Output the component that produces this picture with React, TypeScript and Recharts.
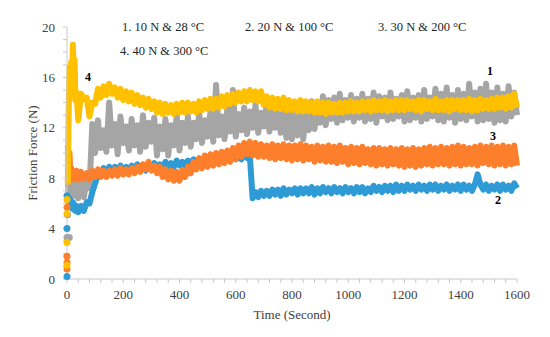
import React from "react";
import { ComposedChart, Line, XAxis, YAxis } from "recharts";

const GRAY = "#a5a5a5";
const BLUE = "#2e9bd6";
const ORANGE = "#fd7f2c";
const YELLOW = "#ffc000";

// sampling times (s): dense start, then every 10 s
const earlyTime = [3, 6, 9, 12, 15, 18, 21, 24, 27, 30, 34];
const regularTime = Array.from({ length: 157 }, (_, i) => 40 + i * 10);
const time = [...earlyTime, ...regularTime];

// 1. 10 N & 28 °C
const gray = [
  7.8, 6.8, 8.0, 6.7, 8.1, 6.6, 8.0, 6.8, 8.2, 6.6, 7.9,
  6.4, 7.8, 6.5, 8.0, 7.2, 12.3, 10.0, 12.6, 10.4, 11.8,
  10.1, 14.0, 10.6, 12.3, 9.9, 12.9, 10.8, 12.1, 10.2, 12.7,
  10.6, 12.2, 10.1, 13.0, 10.5, 12.4, 10.9, 12.8, 9.8, 12.1,
  10.3, 12.7, 9.8, 12.2, 10.6, 13.0, 10.2, 12.4, 10.8, 12.9,
  10.5, 12.4, 11.1, 13.1, 10.8, 12.6, 11.3, 13.2, 10.9, 15.4,
  11.4, 12.9, 11.1, 13.5, 11.7, 15.0, 11.3, 13.1, 11.8, 13.6,
  11.5, 13.3, 12.0, 13.8, 11.6, 13.2, 12.1, 13.9, 11.7, 13.4,
  12.0, 13.9, 11.6, 13.3, 11.2, 13.6, 11.1, 13.2, 11.4, 13.7,
  11.1, 13.5, 11.8, 14.1, 11.9, 13.9, 12.4, 14.5, 12.2, 14.2,
  12.7, 14.4, 12.4, 14.7, 12.6, 14.2, 12.8, 14.6, 12.5, 14.3,
  12.8, 14.7, 12.5, 14.3, 12.7, 14.8, 12.4, 14.5, 12.9, 14.4,
  12.6, 14.8, 12.7, 14.3, 12.9, 14.6, 12.5, 14.9, 12.6, 14.4,
  12.8, 14.6, 12.5, 15.0, 12.7, 14.4, 12.9, 15.1, 12.6, 14.7,
  12.5, 15.2, 12.8, 14.6, 12.4, 15.0, 12.7, 14.7, 12.6, 15.5,
  12.9, 14.8, 12.5, 15.1, 12.6, 15.5, 12.7, 14.8, 12.4, 15.2,
  12.6, 14.7, 12.5, 15.3, 12.9, 14.8, 13.0,
];

// 2. 20 N & 100 °C
const blue = [
  6.6, 6.0, 6.4, 5.8, 6.2, 5.6, 6.1, 5.5, 5.9, 5.4, 5.8,
  5.3, 5.8, 5.4, 6.1, 6.0, 6.9, 7.6, 8.3, 8.2, 8.8,
  8.4, 8.9, 8.4, 8.9, 8.5, 9.0, 8.5, 8.9, 8.6, 9.0,
  8.6, 9.1, 8.7, 9.0, 8.6, 9.1, 8.7, 9.2, 8.8, 9.1,
  8.8, 9.3, 8.9, 9.2, 8.9, 9.4, 9.0, 9.3, 9.0, 9.4,
  9.1, 9.5, 9.1, 9.4, 9.2, 9.6, 9.2, 9.5, 9.3, 9.6,
  9.3, 9.7, 9.4, 9.6, 9.4, 9.8, 9.5, 9.7, 9.5, 9.9,
  9.6, 9.8, 6.4, 6.9, 6.5, 7.0, 6.6, 7.0, 6.6, 7.1,
  6.7, 7.1, 6.6, 7.2, 6.7, 7.1, 6.8, 7.2, 6.7, 7.2,
  6.8, 7.2, 6.8, 7.3, 6.7, 7.2, 6.8, 7.3, 6.9, 7.2,
  6.8, 7.3, 6.9, 7.2, 6.8, 7.3, 6.9, 7.2, 6.8, 7.3,
  6.9, 7.3, 6.8, 7.2, 6.9, 7.4, 7.0, 7.3, 6.9, 7.4,
  7.0, 7.4, 6.9, 7.5, 7.0, 7.4, 7.0, 7.5, 7.1, 7.4,
  7.0, 7.5, 7.1, 7.4, 7.0, 7.5, 7.1, 7.5, 7.0, 7.4,
  7.1, 7.5, 7.0, 7.4, 7.1, 7.5, 7.0, 7.5, 7.1, 7.4,
  7.0, 7.5, 8.3, 7.5, 7.1, 7.5, 7.0, 7.4, 7.1, 7.5,
  7.0, 7.5, 7.1, 7.4, 7.0, 7.6, 7.2,
];

// 3. 30 N & 200 °C
const orange = [
  10.6, 9.0, 10.0, 8.2, 8.8, 8.0, 8.6, 7.9, 8.5, 8.0, 8.6,
  7.9, 8.5, 8.0, 8.4, 7.9, 8.6, 8.1, 8.7, 8.1, 8.6,
  8.1, 8.6, 8.2, 8.7, 8.2, 8.8, 8.3, 8.7, 8.3, 8.8,
  8.4, 8.9, 8.5, 9.1, 8.7, 9.3, 8.6, 9.0, 8.4, 8.9,
  8.1, 8.7, 7.9, 8.6, 7.8, 8.5, 7.8, 8.6, 8.1, 8.9,
  8.4, 9.3, 8.7, 9.6, 8.8, 9.8, 8.9, 9.9, 9.0, 10.0,
  9.1, 10.1, 9.2, 10.2, 9.3, 10.4, 9.5, 10.6, 9.7, 10.8,
  9.9, 10.9, 9.8, 10.8, 9.7, 10.7, 9.7, 10.6, 9.6, 10.7,
  9.5, 10.6, 9.6, 10.7, 9.5, 10.6, 9.4, 10.6, 9.5, 10.7,
  9.4, 10.6, 9.5, 10.5, 9.3, 10.6, 9.4, 10.5, 9.3, 10.6,
  9.3, 10.5, 9.2, 10.6, 9.3, 10.4, 9.1, 10.5, 9.2, 10.4,
  9.1, 10.5, 9.2, 10.3, 9.1, 10.4, 9.0, 10.4, 9.1, 10.3,
  9.0, 10.4, 9.1, 10.3, 9.0, 10.4, 8.9, 10.3, 9.0, 10.4,
  8.9, 10.3, 9.0, 10.4, 9.1, 10.5, 9.0, 10.4, 9.1, 10.5,
  9.1, 10.4, 9.0, 10.5, 9.1, 10.6, 9.0, 10.5, 9.1, 10.4,
  9.1, 10.5, 9.0, 10.6, 9.2, 10.5, 9.1, 10.6, 9.0, 10.5,
  9.1, 10.6, 9.0, 10.5, 9.1, 10.6, 9.0,
];

// 4. 40 N & 300 °C
const yellow = [
  7.5, 13.5, 16.8, 14.4, 17.2, 15.8, 18.6, 16.0, 17.4, 14.2, 14.8,
  12.6, 14.7, 14.3, 14.4, 12.9, 14.0, 13.9, 15.1, 14.4, 15.3,
  14.6, 15.5, 14.7, 15.2, 14.4, 15.1, 14.2, 14.9, 14.1, 14.8,
  13.9, 14.6, 13.8, 14.4, 13.6, 14.3, 13.5, 14.1, 13.2, 14.0,
  13.1, 13.9, 13.2, 13.8, 13.1, 13.9, 13.2, 14.0, 13.2, 14.0,
  13.3, 13.9, 13.2, 14.1, 13.4, 14.2, 13.5, 14.3, 13.5, 14.3,
  13.6, 14.5, 13.7, 14.6, 13.9, 14.7, 14.0, 14.8, 14.1, 14.9,
  14.1, 15.0, 14.2, 14.9, 14.1, 14.9, 13.8, 14.5, 13.6, 14.4,
  13.5, 14.3, 13.5, 14.4, 13.4, 14.2, 13.4, 14.1, 13.3, 14.2,
  13.3, 14.1, 13.3, 14.0, 13.2, 14.1, 13.2, 14.0, 13.1, 14.0,
  13.2, 13.9, 13.2, 14.0, 13.2, 14.0, 13.3, 14.1, 13.3, 14.0,
  13.3, 14.1, 13.4, 14.1, 13.3, 14.2, 13.4, 14.1, 13.4, 14.2,
  13.3, 14.1, 13.4, 14.2, 13.4, 14.2, 13.4, 14.2, 13.5, 14.1,
  13.4, 14.2, 13.3, 14.2, 13.5, 14.1, 13.4, 14.3, 13.4, 14.1,
  13.4, 14.2, 13.3, 14.2, 13.5, 14.2, 13.4, 14.2, 13.4, 14.3,
  13.3, 14.2, 13.4, 14.3, 13.5, 14.2, 13.5, 14.3, 13.5, 14.4,
  13.6, 14.4, 13.5, 14.5, 13.6, 14.7, 13.6,
];

// first readings while the load ramps up (all at t ~ 0)
const grayStart = [
  { t: 0, v: 3.3 },
  { t: 8, v: 3.3 },
  { t: 2, v: 5.1 },
];
const blueStart = [
  { t: 0, v: 0.2 },
  { t: 0, v: 4.0 },
  { t: 0, v: 6.6 },
];
const orangeStart = [
  { t: 0, v: 0.8 },
  { t: 0, v: 1.3 },
  { t: 0, v: 1.8 },
  { t: 0, v: 5.7 },
];
const yellowStart = [
  { t: 0, v: 1.1 },
  { t: 0, v: 2.9 },
  { t: 0, v: 5.2 },
  { t: 0, v: 6.3 },
];

const xLabelTicks = [0, 200, 400, 600, 800, 1000, 1200, 1400, 1600];
const yLabelTicks = [0, 4, 8, 12, 16, 20];
const xMinorTicks = Array.from({ length: 41 }, (_, i) => i * 40);
const yMinorTicks = Array.from({ length: 21 }, (_, i) => i);

const legendItems = [
  { text: "1. 10 N & 28 °C", x: 122, y: 31 },
  { text: "2. 20 N & 100 °C", x: 245, y: 31 },
  { text: "3. 30 N & 200 °C", x: 378, y: 31 },
  { text: "4. 40 N & 300 °C", x: 120, y: 55 },
];
const curveTags = [
  { text: "1", x: 490, y: 75 },
  { text: "2", x: 498, y: 204 },
  { text: "3", x: 493, y: 140 },
  { text: "4", x: 88, y: 81 },
];

const data = time.map((t, i) => ({
  t,
  s1: gray[i],
  s2: blue[i],
  s3: orange[i],
  s4: yellow[i],
}));

const FONT = "'Liberation Serif', 'Times New Roman', serif";
const AXIS = "#c9c9c9";
const TEXT = "#404040";
const BAND = 6;

const startDot = (fill: string) => ({ r: 3.5, fill, stroke: "none" });

// only every 200 s / 4 N gets a number, the rest are minor tick marks
const XTick = (props: any) => {
  const { x, y, payload } = props;
  if (!xLabelTicks.includes(payload.value)) return <g />;
  return (
    <text x={x} y={y} dy="0.71em" textAnchor="middle" fontSize={13} fontFamily={FONT} fill={TEXT}>
      {payload.value}
    </text>
  );
};

const YTick = (props: any) => {
  const { x, y, payload } = props;
  if (!yLabelTicks.includes(payload.value)) return <g />;
  return (
    <text x={x} y={y} dy="0.355em" textAnchor="end" fontSize={13} fontFamily={FONT} fill={TEXT}>
      {payload.value}
    </text>
  );
};

export default function App() {
  return (
    <div
      style={{
        position: "absolute",
        left: 0,
        top: 0,
        width: 550,
        height: 337,
        background: "#fff",
        fontFamily: FONT,
      }}
    >
      <ComposedChart
        width={550}
        height={337}
        data={data}
        margin={{ top: 27, right: 33, bottom: 0, left: 0 }}
      >
        <XAxis
          dataKey="t"
          type="number"
          domain={[0, 1600]}
          ticks={xMinorTicks}
          interval={0}
          height={58}
          tickSize={4}
          tickMargin={7}
          axisLine={{ stroke: AXIS }}
          tickLine={{ stroke: AXIS }}
          tick={<XTick />}
        />
        <YAxis
          type="number"
          domain={[0, 20]}
          ticks={yMinorTicks}
          interval={0}
          width={67}
          tickSize={4}
          tickMargin={8}
          axisLine={{ stroke: AXIS }}
          tickLine={{ stroke: AXIS }}
          tick={<YTick />}
        />
        <Line dataKey="s1" stroke={GRAY} strokeWidth={BAND} strokeLinejoin="round" dot={false} activeDot={false} isAnimationActive={false} />
        <Line data={grayStart} dataKey="v" stroke="none" dot={startDot(GRAY)} activeDot={false} isAnimationActive={false} />
        <Line dataKey="s2" stroke={BLUE} strokeWidth={BAND} strokeLinejoin="round" dot={false} activeDot={false} isAnimationActive={false} />
        <Line data={blueStart} dataKey="v" stroke="none" dot={startDot(BLUE)} activeDot={false} isAnimationActive={false} />
        <Line dataKey="s3" stroke={ORANGE} strokeWidth={BAND} strokeLinejoin="round" dot={false} activeDot={false} isAnimationActive={false} />
        <Line data={orangeStart} dataKey="v" stroke="none" dot={startDot(ORANGE)} activeDot={false} isAnimationActive={false} />
        <Line dataKey="s4" stroke={YELLOW} strokeWidth={BAND} strokeLinejoin="round" dot={false} activeDot={false} isAnimationActive={false} />
        <Line data={yellowStart} dataKey="v" stroke="none" dot={startDot(YELLOW)} activeDot={false} isAnimationActive={false} />
      </ComposedChart>
      <svg
        width={550}
        height={337}
        style={{ position: "absolute", left: 0, top: 0, pointerEvents: "none" }}
      >
        {legendItems.map((d) => (
          <text key={d.text} x={d.x} y={d.y} fontSize={12.5} fontFamily={FONT} fill="#262626">
            {d.text}
          </text>
        ))}
        {curveTags.map((d) => (
          <text key={d.text} x={d.x} y={d.y} fontSize={12} fontWeight="bold" fontFamily={FONT} fill="#000" textAnchor="middle">
            {d.text}
          </text>
        ))}
        <text
          x={0}
          y={0}
          transform="translate(37,153) rotate(-90)"
          textAnchor="middle"
          fontSize={13}
          fontFamily={FONT}
          fill={TEXT}
        >
          Friction Force (N)
        </text>
        <text x={292} y={319} textAnchor="middle" fontSize={13} fontFamily={FONT} fill={TEXT}>
          Time (Second)
        </text>
      </svg>
    </div>
  );
}
